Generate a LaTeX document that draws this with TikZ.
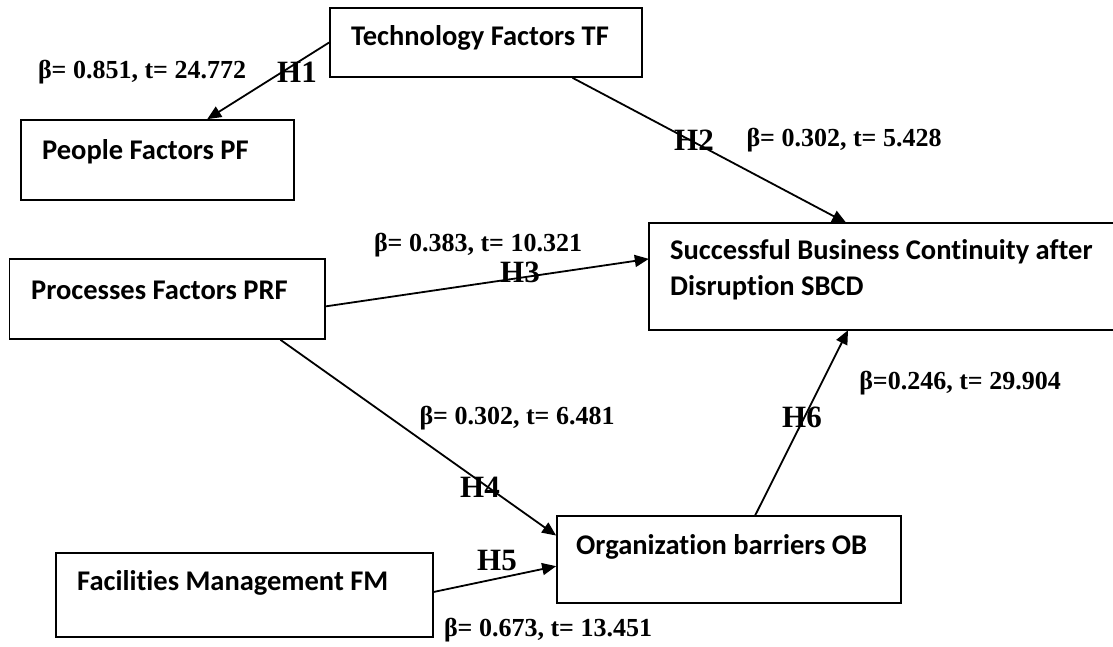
\documentclass[tikz,border=0pt]{standalone}
\usepackage{fontspec}
\setmainfont{Liberation Serif}
\newfontfamily\boxfont[RawFeature={-liga}]{Carlito}
\usetikzlibrary{arrows.meta,calc}
\tikzset{
  boxnode/.style={draw=black,line width=1.7pt,minimum width=#1,inner sep=0pt},
  boxtext/.style={anchor=west,inner sep=0pt,font=\boxfont\bfseries\fontsize{28.5}{36}\selectfont},
  coef/.style={inner sep=0pt,font=\bfseries\fontsize{26}{30}\selectfont},
  hyp/.style={inner sep=0pt,font=\bfseries\fontsize{31}{34}\selectfont},
  arr/.style={line width=1.8pt,-{Triangle[length=14pt,width=12pt]}}
}
\begin{document}
\begin{tikzpicture}[x=1pt,y=-1pt]
\useasboundingbox (0,0) rectangle (1113,646);
% boxes
\node[boxnode=312pt,minimum height=69pt] (tf) at (486,42.5) {};
\node[boxnode=273pt,minimum height=80pt] (pf) at (157.5,160) {};
\node[minimum width=464pt,minimum height=107pt,inner sep=0pt] (sbcd) at (881,276.5) {};
\draw[line width=1.7pt] (sbcd.north east) -- (sbcd.north west) -- (sbcd.south west) -- (sbcd.south east);
\node[boxnode=315.5pt,minimum height=80pt] (prf) at (167.25,299) {};
\node[boxnode=344pt,minimum height=87pt] (ob) at (729,559.5) {};
\node[boxnode=377pt,minimum height=84pt] (fm) at (244.5,595) {};
% box texts
\node[boxtext] (tft) at (351,38) {Technology Factors TF};
\node[boxtext] (pft) at (42,152) {People Factors PF};
\node[boxtext] (sbcdt1) at (670,252) {Successful Business Continuity after};
\node[boxtext] (sbcdt2) at (670,288) {Disruption SBCD};
\node[boxtext] (prft) at (31,290) {Processes Factors PRF};
\node[boxtext] (obt) at (576,547) {Organization barriers OB};
\node[boxtext] (fmt) at (77,583) {Facilities Management FM};
% arrows
\draw[arr] (tf.west) -- ($(pf.north west)!0.681!(pf.north east)$);
\draw[arr] ($(tf.south west)!0.776!(tf.south east)$) -- ($(sbcd.north west)!0.425!(sbcd.north east)$);
\draw[arr] ($(prf.north east)!0.59!(prf.south east)$) -- ($(sbcd.north west)!0.336!(sbcd.south west)$);
\draw[arr] ($(prf.south west)!0.857!(prf.south east)$) -- ($(ob.north west)!0.23!(ob.south west)$);
\draw[arr] ($(fm.north east)!0.464!(fm.south east)$) -- ($(ob.north west)!0.575!(ob.south west)$);
\draw[arr] ($(ob.north west)!0.576!(ob.north east)$) -- ($(sbcd.south west)!0.429!(sbcd.south east)$);
% labels
\node[coef] (c1) at (142,72) {β= 0.851, t= 24.772};
\node[hyp] (h1) at (297,72) {H1};
\node[hyp] (h2) at (694,140) {H2};
\node[coef] (c2) at (844,140) {β= 0.302, t= 5.428};
\node[coef] (c3) at (478,245) {β= 0.383, t= 10.321};
\node[hyp] (h3) at (520,272) {H3};
\node[coef] (c4) at (517,418) {β= 0.302, t= 6.481};
\node[hyp] (h4) at (480,487) {H4};
\node[hyp] (h5) at (497,560) {H5};
\node[coef] (c5) at (548,630) {β= 0.673, t= 13.451};
\node[hyp] (h6) at (802,417) {H6};
\node[coef] (c6) at (960,383) {β=0.246, t= 29.904};
\end{tikzpicture}
\end{document}
